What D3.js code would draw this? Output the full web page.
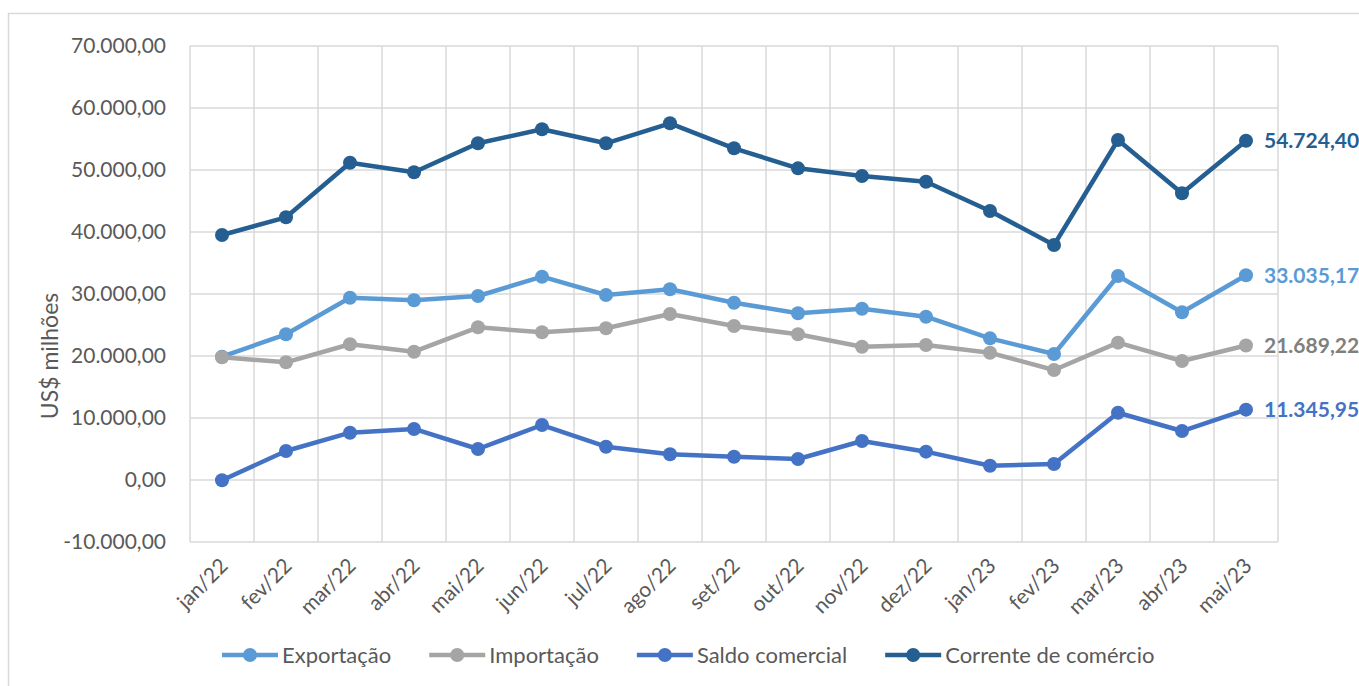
<!DOCTYPE html>
<html>
<head>
<meta charset="utf-8">
<script src="https://cdn.jsdelivr.net/npm/d3@7"></script>
<style>
  body { margin: 0; background: #fff; }
  svg { display: block; font-family: Lato, "Noto Sans", sans-serif; }
</style>
</head>
<body>
<svg id="chart" width="1359" height="686"></svg>
<script>
// months on the x axis
var months = ['jan/22', 'fev/22', 'mar/22', 'abr/22', 'mai/22', 'jun/22', 'jul/22', 'ago/22',
  'set/22', 'out/22', 'nov/22', 'dez/22', 'jan/23', 'fev/23', 'mar/23', 'abr/23', 'mai/23'];

// US$ milhões (last value as labelled)
var exportacao = [19890, 23500, 29400, 28980, 29680, 32790, 29840, 30760,
  28600, 26890, 27630, 26340, 22850, 20320, 32900, 27050, 33035.17];
var importacao = [19800, 18980, 21890, 20690, 24630, 23820, 24470, 26770,
  24840, 23500, 21500, 21770, 20530, 17740, 22150, 19190, 21689.22];
var saldo = [-50, 4680, 7630, 8230, 5000, 8870, 5370, 4150,
  3760, 3390, 6290, 4570, 2310, 2580, 10850, 7900, 11345.95];
var corrente = [39520, 42370, 51180, 49630, 54310, 56570, 54310, 57530,
  53500, 50270, 49030, 48110, 43390, 37900, 54840, 46240, 54724.40];

var yTicks = [-10000, 0, 10000, 20000, 30000, 40000, 50000, 60000, 70000];

var series = [
  { name: 'Exportação', values: exportacao, color: '#5B9BD5', label: '#5B9BD5' },
  { name: 'Importação', values: importacao, color: '#A5A5A5', label: '#7F7F7F' },
  { name: 'Saldo comercial', values: saldo, color: '#4472C4', label: '#4472C4' },
  { name: 'Corrente de comércio', values: corrente, color: '#255E91', label: '#255E91' }
];

var ptBR = d3.formatLocale({ decimal: ',', thousands: '.', grouping: [3], currency: ['US$', ''], minus: '-' });
var fmt = ptBR.format(',.2f');

var svg = d3.select('#chart');
var plotL = 190, plotR = 1278, plotT = 46, plotB = 542;

// outer frame
svg.append('rect')
  .attr('x', 8.5).attr('y', 13.5)
  .attr('width', 1400).attr('height', 700)
  .attr('fill', 'none').attr('stroke', '#d9d9d9').attr('stroke-width', 1.5);

var x = d3.scaleBand().domain(months).range([plotL, plotR]);
var y = d3.scaleLinear().domain([-10000, 70000]).range([plotB, plotT]);

// grid
var grid = svg.append('g').attr('stroke', '#d9d9d9').attr('stroke-width', 1.5);
grid.selectAll('line.h').data(yTicks).enter().append('line')
  .attr('x1', plotL).attr('x2', plotR)
  .attr('y1', function (d) { return y(d); })
  .attr('y2', function (d) { return y(d); });
grid.selectAll('line.v').data(months.map(function (m) { return x(m); }).concat([plotR])).enter().append('line')
  .attr('x1', function (d) { return d; }).attr('x2', function (d) { return d; })
  .attr('y1', plotT).attr('y2', plotB);

// y axis
var yAxis = svg.append('g')
  .attr('transform', 'translate(' + (plotL - 24) + ',0)')
  .call(d3.axisLeft(y).tickValues(yTicks).tickSize(0).tickFormat(fmt));
yAxis.select('.domain').remove();
yAxis.selectAll('text')
  .attr('x', 0)
  .attr('fill', '#595959')
  .style('font-size', '21px')
  .style('font-family', 'Lato, sans-serif');

svg.append('text')
  .attr('transform', 'translate(58,356) rotate(-90)')
  .attr('text-anchor', 'middle')
  .attr('fill', '#595959')
  .style('font-size', '23px')
  .text('US$ milhões');

// x axis labels
svg.append('g').selectAll('text').data(months).enter().append('text')
  .attr('transform', function (d) {
    return 'translate(' + (x(d) + x.bandwidth() / 2 + 2) + ',562) rotate(-45)';
  })
  .attr('text-anchor', 'end')
  .attr('dy', '0.35em')
  .attr('fill', '#595959')
  .style('font-size', '21px')
  .text(function (d) { return d; });

// lines and markers
var line = d3.line()
  .x(function (d, i) { return x(months[i]) + x.bandwidth() / 2; })
  .y(function (d) { return y(d); });

series.forEach(function (s) {
  var g = svg.append('g');
  g.append('path')
    .datum(s.values)
    .attr('d', line)
    .attr('fill', 'none')
    .attr('stroke', s.color)
    .attr('stroke-width', 4.5)
    .attr('stroke-linejoin', 'round');
  g.selectAll('circle').data(s.values).enter().append('circle')
    .attr('cx', function (d, i) { return x(months[i]) + x.bandwidth() / 2; })
    .attr('cy', function (d) { return y(d); })
    .attr('r', 7)
    .attr('fill', s.color);

  var last = s.values.length - 1;
  g.append('text')
    .attr('x', x(months[last]) + x.bandwidth() / 2 + 18)
    .attr('y', y(s.values[last]))
    .attr('dy', '0.35em')
    .attr('fill', s.label)
    .style('font-size', '21px')
    .style('font-weight', 'bold')
    .text(fmt(s.values[last]));
});

// legend
var lx = 222, ly = 655;
series.forEach(function (s) {
  var g = svg.append('g').attr('transform', 'translate(' + lx + ',' + ly + ')');
  g.append('line').attr('x1', 0).attr('x2', 56).attr('y1', 0).attr('y2', 0)
    .attr('stroke', s.color).attr('stroke-width', 4.5);
  g.append('circle').attr('cx', 28).attr('cy', 0).attr('r', 7).attr('fill', s.color);
  var t = g.append('text')
    .attr('x', 60).attr('dy', '0.35em')
    .attr('fill', '#595959')
    .style('font-size', '22px')
    .text(s.name);
  lx += 60 + t.node().getComputedTextLength() + 38;
});
</script>
</body>
</html>
